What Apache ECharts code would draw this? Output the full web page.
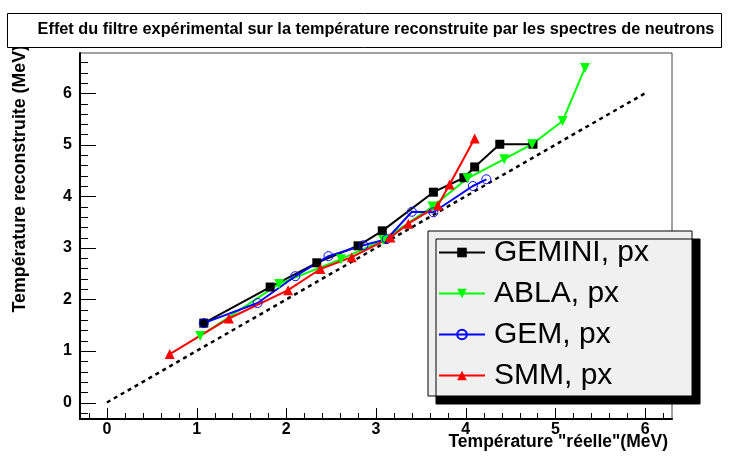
<!DOCTYPE html>
<html>
<head>
<meta charset="utf-8">
<script src="https://cdn.jsdelivr.net/npm/echarts@6/dist/echarts.min.js"></script>
<style>
    html, body { margin: 0; padding: 0; background: #fff; }
    #chart { width: 729px; height: 459px; }
</style>
</head>
<body>
<div id="chart"></div>
<script>
// values
const geminiX = [1.08, 1.82, 2.34, 2.80, 3.07, 3.64, 3.98, 4.10, 4.38, 4.75];
const geminiY = [1.54, 2.24, 2.71, 3.04, 3.33, 4.08, 4.36, 4.57, 5.01, 5.01];
const ablaX = [1.04, 1.92, 2.61, 3.08, 3.63, 4.02, 4.43, 4.74, 5.08, 5.33];
const ablaY = [1.29, 2.30, 2.78, 3.15, 3.80, 4.35, 4.72, 5.01, 5.46, 6.49];
const gemX = [1.08, 1.68, 2.10, 2.47, 2.86, 3.12, 3.40, 3.64, 4.08, 4.23];
const gemY = [1.54, 1.93, 2.45, 2.84, 3.05, 3.17, 3.70, 3.69, 4.20, 4.33];
const smmX = [0.70, 1.36, 2.02, 2.38, 2.73, 3.16, 3.36, 3.69, 3.82, 4.10];
const smmY = [0.94, 1.63, 2.18, 2.59, 2.82, 3.20, 3.47, 3.82, 4.23, 5.12];
const diagX = [0, 6];
const diagY = [0, 6];

const seriesNames = ["GEMINI, px", "ABLA, px", "GEM, px", "SMM, px"];
const xTickLabels = [0, 1, 2, 3, 4, 5, 6];
const yTickLabels = [0, 1, 2, 3, 4, 5, 6];

const zip = (xs, ys) => xs.map((x, i) => [x, ys[i]]);
const minorTicks = (from, to) => {
    const out = [];
    for (let i = Math.round(from * 5); i <= Math.round(to * 5); i++) {
        if (i % 5 !== 0) out.push(i / 5);
    }
    return out;
};

const chart = echarts.init(document.getElementById("chart"));
const tickFont = { color: "#000", fontFamily: "Liberation Sans", fontWeight: "bold", fontSize: 16 };
const X_RANGE = { min: -0.3, max: 6.3 };
const Y_RANGE = { min: -0.32, max: 6.78 };

const titleGraphics = [
    {
        type: "rect", left: 7, top: 13, z: 10,
        shape: { width: 714, height: 34 },
        style: { fill: "#fff", stroke: "#000", lineWidth: 1 }
    },
    {
        type: "text", x: 376, y: 30, z: 11,
        style: {
            text: "Effet du filtre expérimental sur la température reconstruite par les spectres de neutrons",
            font: "bold 16.3px 'Liberation Sans'", fill: "#000", align: "center", verticalAlign: "middle"
        }
    },
    {
        type: "text", x: 20, y: 45, rotation: Math.PI / 2,
        style: {
            text: "Température reconstruite (MeV)",
            font: "bold 17.8px 'Liberation Sans'", fill: "#000", align: "right", verticalAlign: "middle"
        }
    },
    {
        type: "text", x: 668, y: 442,
        style: {
            text: "Température \"réelle\"(MeV)",
            font: "bold 17.5px 'Liberation Sans'", fill: "#000", align: "right", verticalAlign: "middle"
        }
    }
];

const option = {
    animation: false,
    grid: {
        left: 80, top: 53, width: 592, height: 366,
        show: true, backgroundColor: "transparent", borderColor: "#444", borderWidth: 1
    },
    xAxis: Object.assign({
        type: "value", position: "bottom",
        axisLine: { onZero: false, lineStyle: { color: "#000", width: 2 } },
        axisTick: { show: false },
        axisLabel: Object.assign({ customValues: xTickLabels, margin: 3 }, tickFont),
        splitLine: { show: false }
    }, X_RANGE),
    yAxis: Object.assign({
        type: "value", position: "left",
        axisLine: { show: true, onZero: false, lineStyle: { color: "#000", width: 2 } },
        axisTick: { show: false },
        axisLabel: Object.assign({ customValues: yTickLabels, margin: 8 }, tickFont),
        splitLine: { show: false }
    }, Y_RANGE),
    legend: {
        orient: "vertical",
        left: 428, top: 231,
        data: seriesNames,
        itemWidth: 46, itemHeight: 12, itemGap: 0,
        padding: [1, 43, 0, 10],
        backgroundColor: "#f0f0f0",
        borderColor: "#000", borderWidth: 1,
        shadowColor: "#000", shadowBlur: 0, shadowOffsetX: 8, shadowOffsetY: 8,
        textStyle: { color: "#000", fontFamily: "Liberation Sans", fontSize: 30, lineHeight: 41, padding: [0, 0, 0, 4] }
    },
    graphic: titleGraphics,
    series: [
        {
            type: "line", data: zip(diagX, diagY), symbol: "none", silent: true,
            lineStyle: { color: "#000", width: 2.5, type: [4, 4] }
        },
        {
            name: seriesNames[0], type: "line", data: zip(geminiX, geminiY),
            symbol: "rect", symbolSize: 9, color: "#000",
            lineStyle: { color: "#000", width: 2 }
        },
        {
            name: seriesNames[1], type: "line", data: zip(ablaX, ablaY),
            symbol: "triangle", symbolRotate: 180, symbolSize: 10, color: "#00ff00",
            lineStyle: { color: "#00ff00", width: 2 }
        },
        {
            name: seriesNames[2], type: "line", data: zip(gemX, gemY),
            symbol: "circle", symbolSize: 9, color: "#0000ff",
            itemStyle: { color: "rgba(0,0,0,0)", borderColor: "#0000ff", borderWidth: 1 },
            lineStyle: { color: "#0000ff", width: 2 }
        },
        {
            name: seriesNames[3], type: "line", data: zip(smmX, smmY),
            symbol: "triangle", symbolSize: 10, color: "#ff0000",
            lineStyle: { color: "#ff0000", width: 2 }
        }
    ]
};
chart.setOption(option);

// inside ticks (ROOT style), placed through the axes' own scales
try {
    const corner = chart.convertToPixel({ gridIndex: 0 }, [X_RANGE.min, Y_RANGE.min]);
    const bottom = corner[1];
    const left = corner[0];
    const ticks = [];
    const tick = (x1, y1, x2, y2) => ticks.push({
        type: "line", silent: true, z: 5,
        shape: { x1: x1, y1: y1, x2: x2, y2: y2 },
        style: { stroke: "#000", lineWidth: 1 }
    });
    const xPx = v => Math.round(chart.convertToPixel({ xAxisIndex: 0 }, v)) + 0.5;
    const yPx = v => Math.round(chart.convertToPixel({ yAxisIndex: 0 }, v)) + 0.5;
    xTickLabels.forEach(v => tick(xPx(v), bottom, xPx(v), bottom - 11));
    minorTicks(-0.2, 6.2).forEach(v => tick(xPx(v), bottom, xPx(v), bottom - 6));
    yTickLabels.forEach(v => tick(left, yPx(v), left + 16, yPx(v)));
    minorTicks(-0.2, 6.6).forEach(v => tick(left, yPx(v), left + 8, yPx(v)));
    chart.setOption({ graphic: titleGraphics.concat(ticks) });
} catch (e) {
    console.error(e);
}
</script>
</body>
</html>
